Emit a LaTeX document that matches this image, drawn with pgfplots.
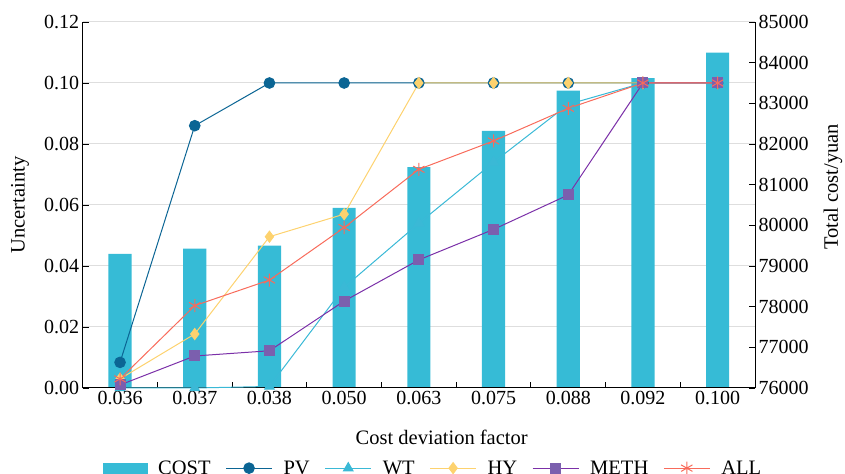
\documentclass[border=0pt]{standalone}
\usepackage{pgfplots}
\pgfplotsset{compat=1.18}
\usepackage{fontspec}
\setmainfont{Liberation Serif}
\definecolor{barc}{HTML}{36BBD6}
\definecolor{pvc}{HTML}{0B6594}
\definecolor{wtc}{HTML}{3AB9D6}
\definecolor{hyc}{HTML}{FDD26E}
\definecolor{methl}{HTML}{7B30A8}
\definecolor{methm}{HTML}{7B5FAE}
\definecolor{allc}{HTML}{F86B5B}
\begin{document}
\begin{tikzpicture}
\pgfplotsset{
  every axis/.append style={
    scale only axis, width=672.3pt, height=366pt,
    xmin=-0.5, xmax=8.5,
    /pgf/number format/assume math mode=true,
    tick label style={font=\fontsize{20}{24}\selectfont},
    label style={font=\fontsize{20.5}{24}\selectfont},
    tick align=inside,
    major tick length=6pt,
    tick style={black, line width=0.9pt},
    axis line style={black, line width=1pt},
  }
}
% bars + right axis
\begin{axis}[
  axis y line*=right, axis x line=none,
  ymin=76000, ymax=85000,
  scaled y ticks=false,
  ytick={76000,77000,...,85000},
  yticklabel style={/pgf/number format/fixed, /pgf/number format/set thousands separator={}},
  extra y ticks={77500,79000,80500,82000,83500,85000},
  extra y tick labels={},
  extra y tick style={grid=major, major tick length=0pt},
  grid style={draw=black!13, line width=1pt},
  ylabel={Total cost/yuan},
  ylabel style={at={(axis description cs:1.116,0.55)}, anchor=center},
]
\addplot[ybar, bar width=0.31, fill=barc, draw=none] coordinates {
(0,79300) (1,79430) (2,79500) (3,80430) (4,81430) (5,82320) (6,83310) (7,83620) (8,84245)};
\coordinate (bl) at (rel axis cs:0,0);
\coordinate (tr) at (rel axis cs:1,1);
\end{axis}
% lines + left axis
\begin{axis}[
  axis x line*=bottom, axis y line*=left,
  ymin=0, ymax=0.12,
  ytick={0,0.02,...,0.12},
  yticklabel style={/pgf/number format/fixed, /pgf/number format/fixed zerofill, /pgf/number format/precision=2},
  xtick={0.5,1.5,...,7.5}, xticklabels={},
  extra x ticks={0,1,2,3,4,5,6,7,8},
  extra x tick labels={0.036,0.037,0.038,0.050,0.063,0.075,0.088,0.092,0.100},
  extra x tick style={major tick length=0pt},
  xlabel={Cost deviation factor},
  xlabel style={at={(axis description cs:0.534,-0.134)}, anchor=center},
  ylabel={Uncertainty},
  ylabel style={at={(axis description cs:-0.0933,0.5)}, anchor=center},
  clip=false,
  legend columns=6,
  legend style={draw=none, fill=none, at={(axis description cs:0.521,-0.219)}, anchor=center,
    font=\fontsize{20.5}{24}\selectfont,
    /tikz/every odd column/.append style={column sep=9pt},
    /tikz/every even column/.append style={column sep=13pt}},
  legend image code/.code={\draw[mark repeat=2,mark phase=2] plot coordinates {(0pt,0pt) (23pt,0pt) (46pt,0pt)};},
]
\addlegendimage{legend image code/.code={\fill[barc] (0pt,-7pt) rectangle (44pt,5pt);}}
\addlegendentry{COST}
\addplot[pvc, line width=1pt, mark=*, mark size=5.3pt, mark options={fill=pvc, draw=pvc}] coordinates {
(0,0.0084) (1,0.086) (2,0.1) (3,0.1) (4,0.1) (5,0.1) (6,0.1) (7,0.1) (8,0.1)};
\addlegendentry{PV}
\addplot[wtc, line width=1pt, mark=triangle*, mark size=5.5pt, mark options={fill=wtc, draw=wtc}] coordinates {
(0,0) (1,0) (2,0.0005) (3,0.033) (4,0.054) (5,0.074) (6,0.093) (7,0.1) (8,0.1)};
\addlegendentry{WT}
\addplot[hyc, line width=1pt, mark=diamond*, mark size=5.5pt, mark options={fill=hyc, draw=hyc}] coordinates {
(0,0.003) (1,0.0177) (2,0.0496) (3,0.057) (4,0.1) (5,0.1) (6,0.1) (7,0.1) (8,0.1)};
\addlegendentry{HY}
\addplot[methl, line width=1pt, mark=square*, mark size=5pt, mark options={fill=methm, draw=methm}] coordinates {
(0,0.001) (1,0.0105) (2,0.0122) (3,0.0285) (4,0.042) (5,0.052) (6,0.0633) (7,0.1) (8,0.1)};
\addlegendentry{METH}
\addplot[allc, line width=1pt, mark=asterisk, mark size=6.5pt, mark options={draw=allc, line width=1pt}] coordinates {
(0,0.003) (1,0.027) (2,0.0354) (3,0.0526) (4,0.0717) (5,0.081) (6,0.0917) (7,0.1) (8,0.1)};
\addlegendentry{ALL}
\end{axis}
\pgfresetboundingbox
\path ([shift={(-82.7pt,-86pt)}]bl) rectangle ([shift={(90pt,22pt)}]tr);
\end{tikzpicture}
\end{document}
